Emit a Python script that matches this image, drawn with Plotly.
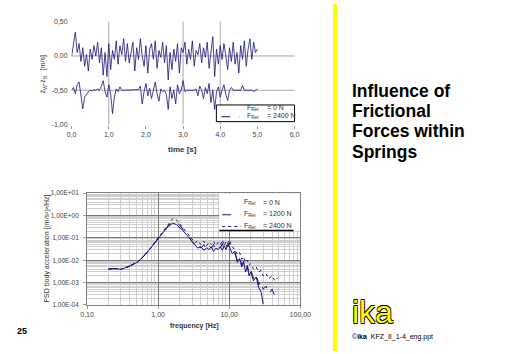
import plotly.graph_objects as go

# ---------------- data ----------------
time_s = [round(i * 0.05, 2) for i in range(101)]

dv_0N = [
    0.00, 0.22, 0.35, 0.05, 0.18, -0.08, 0.12, -0.15, 0.02, -0.22,
    0.10, -0.05, 0.15, 0.00, 0.20, -0.10, 0.12, -0.28, 0.05, -0.30,
    0.18, -0.20, 0.08, -0.05, 0.22, -0.12, 0.15, 0.02, 0.25, -0.08,
    0.18, -0.10, 0.05, 0.20, -0.22, 0.12, -0.05, 0.25, 0.00, -0.15,
    0.15, -0.25, 0.10, 0.18, -0.05, 0.22, -0.18, 0.08, -0.02, 0.20,
    -0.10, 0.15, -0.35, 0.05, -0.20, 0.10, -0.08, 0.18, -0.25, 0.12,
    0.05, 0.20, -0.12, 0.10, -0.05, 0.22, -0.15, 0.08, 0.02, 0.18,
    -0.10, 0.12, -0.02, 0.20, -0.18, 0.05, 0.28, -0.30, 0.10, -0.12,
    0.15, -0.05, 0.18, 0.00, -0.20, 0.12, -0.08, 0.20, -0.12, 0.05,
    -0.25, 0.15, -0.05, 0.22, -0.15, 0.10, 0.25, -0.05, 0.20, 0.05,
    0.10,
]

dv_2400N = [
    -0.50, -0.46, -0.55, -0.42, -0.38, -0.58, -0.77, -0.60, -0.55, -0.52,
    -0.50, -0.51, -0.49, -0.50, -0.48, -0.50, -0.44, -0.36, -0.52, -0.60,
    -0.42, -0.55, -0.84, -0.60, -0.48, -0.52, -0.45, -0.50, -0.50, -0.50,
    -0.50, -0.50, -0.50, -0.50, -0.50, -0.50, -0.49, -0.44, -0.70, -0.52,
    -0.40, -0.58, -0.47, -0.62, -0.50, -0.38, -0.55, -0.66, -0.48, -0.52,
    -0.50, -0.56, -0.78, -0.45, -0.62, -0.50, -0.70, -0.42, -0.55, -0.50,
    -0.36, -0.52, -0.50, -0.50, -0.49, -0.50, -0.50, -0.48, -0.58, -0.44,
    -0.50, -0.62, -0.46, -0.55, -0.40, -0.68, -0.50, -0.78, -0.52, -0.45,
    -0.60, -0.50, -0.42, -0.56, -0.65, -0.50, -0.46, -0.50, -0.50, -0.50,
    -0.50, -0.50, -0.43, -0.50, -0.50, -0.50, -0.50, -0.50, -0.52, -0.50,
    -0.48,
]

freq_hz = [0.2, 0.25, 0.3, 0.35, 0.4, 0.5, 0.6, 0.7, 0.8, 0.9,
           1.0, 1.2, 1.4, 1.6, 1.8, 2.0, 2.2, 2.5, 2.8, 3.0,
           3.3, 3.6, 4.0, 4.4, 4.8, 5.2, 5.6, 6.0, 6.5, 7.0,
           7.5, 8.0, 8.5, 9.0, 9.5, 10, 11, 12, 13, 14,
           15, 16, 17, 18, 19, 20, 22, 24, 26, 28,
           30, 33, 36, 40, 44, 48]

psd_0N = [4.0e-3, 4.3e-3, 3.9e-3, 4.6e-3, 5.5e-3, 8.0e-3, 1.3e-2, 2.2e-2, 3.8e-2, 6.2e-2,
          9.5e-2, 0.19, 0.33, 0.45, 0.40, 0.30, 0.22, 0.14, 0.09, 0.065,
          0.05, 0.035, 0.04, 0.028, 0.035, 0.03, 0.04, 0.025, 0.035, 0.03,
          0.04, 0.028, 0.045, 0.03, 0.05, 0.04, 0.02, 0.025, 0.008, 0.012,
          0.005, 0.008, 0.003, 0.005, 0.002, 0.003, 0.0012, 0.0018, 0.0006, 0.0004,
          0.00011, None, None, None, None, None]

psd_1200N = [4.1e-3, 4.0e-3, 4.2e-3, 4.8e-3, 5.6e-3, 8.2e-3, 1.35e-2, 2.3e-2, 4.0e-2, 6.5e-2,
             0.10, 0.20, 0.36, 0.55, 0.50, 0.38, 0.26, 0.16, 0.10, 0.07,
             0.045, 0.06, 0.035, 0.05, 0.03, 0.045, 0.035, 0.05, 0.03, 0.045,
             0.035, 0.055, 0.03, 0.05, 0.04, 0.06, 0.03, 0.02, 0.01, 0.015,
             0.006, 0.009, 0.004, 0.006, 0.0025, 0.004, 0.0015, 0.0025, 0.0008, 0.0012,
             0.0005, 0.0007, 0.0003, 0.0005, 0.00025, 0.0003]

psd_2400N = [3.9e-3, 4.2e-3, 4.0e-3, 4.7e-3, 5.4e-3, 7.8e-3, 1.3e-2, 2.25e-2, 3.9e-2, 6.4e-2,
             0.10, 0.21, 0.40, 0.72, 0.65, 0.45, 0.30, 0.18, 0.11, 0.08,
             0.06, 0.075, 0.05, 0.07, 0.045, 0.065, 0.05, 0.07, 0.045, 0.065,
             0.05, 0.08, 0.045, 0.07, 0.055, 0.08, 0.04, 0.03, 0.018, 0.022,
             0.011, 0.014, 0.008, 0.01, 0.006, 0.007, 0.004, 0.005, 0.003, 0.0035,
             0.002, 0.0025, 0.0015, 0.002, 0.0012, 0.0016]

time_ticks = [0, 1, 2, 3, 4, 5, 6]
time_ticktext = ["0,0", "1,0", "2,0", "3,0", "4,0", "5,0", "6,0"]
dv_ticks = [0.5, 0.0, -0.5, -1.0]
dv_ticktext = ["0,50", "0,00", "-0,50", "-1,00"]
top_grid_x = [1, 3, 4]
top_grid_y = [0.0, -0.5]
freq_ticks = [0.1, 1, 10, 100]
freq_ticktext = ["0,10", "1,00", "10,00", "100,00"]
psd_ticks = [10, 1, 0.1, 0.01, 0.001, 0.0001]
psd_ticktext = ["1,00E+01", "1,00E+00", "1,00E-01", "1,00E-02", "1,00E-03", "1,00E-04"]
title_lines = ["Influence of", "Frictional", "Forces within", "Springs"]

# ---------------- style ----------------
W, H = 512, 354
NAVY = "#14147a"
FONT = "Liberation Sans, Arial, sans-serif"
TICKFONT = dict(family=FONT, size=7, color="#444444")


def px(x):
    return x / W


def py(y):
    return 1 - y / H


fig = go.Figure()

# top chart
fig.add_trace(go.Scatter(x=time_s, y=dv_0N, mode="lines", line=dict(color=NAVY, width=0.8),
                         xaxis="x", yaxis="y", showlegend=False))
fig.add_trace(go.Scatter(x=time_s, y=dv_2400N, mode="lines", line=dict(color=NAVY, width=0.8),
                         xaxis="x", yaxis="y", showlegend=False))
# bottom chart
fig.add_trace(go.Scatter(x=freq_hz, y=psd_0N, mode="lines", line=dict(color=NAVY, width=1),
                         xaxis="x2", yaxis="y2", showlegend=False, connectgaps=False))
fig.add_trace(go.Scatter(x=freq_hz, y=psd_1200N, mode="lines", line=dict(color=NAVY, width=1, dash="dash"),
                         xaxis="x2", yaxis="y2", showlegend=False))
fig.add_trace(go.Scatter(x=freq_hz, y=psd_2400N, mode="lines", line=dict(color=NAVY, width=1, dash="dot"),
                         xaxis="x2", yaxis="y2", showlegend=False))

shapes = []
for xv in top_grid_x:
    shapes.append(dict(type="line", xref="x", yref="y domain", x0=xv, x1=xv, y0=0, y1=1,
                       line=dict(color="#A8A8A8", width=1), layer="below"))
for yv in top_grid_y:
    shapes.append(dict(type="line", xref="x domain", yref="y", x0=0, x1=1, y0=yv, y1=yv,
                       line=dict(color="#A8A8A8", width=1), layer="below"))

# top legend box
shapes.append(dict(type="rect", xref="paper", yref="paper", x0=px(217), x1=px(298), y0=py(120), y1=py(103),
                   line=dict(color="black", width=1), fillcolor="white", layer="above"))
shapes.append(dict(type="line", xref="paper", yref="paper", x0=px(222), x1=px(241), y0=py(115), y1=py(115),
                   line=dict(color=NAVY, width=1, dash="dash"), layer="above"))

# bottom legend box
shapes.append(dict(type="rect", xref="paper", yref="paper", x0=px(220), x1=px(303.5), y0=py(231), y1=py(193.5),
                   line=dict(width=0), fillcolor="white", layer="above"))
shapes.append(dict(type="line", xref="paper", yref="paper", x0=px(220), x1=px(297), y0=py(231), y1=py(231),
                   line=dict(color="black", width=1.5), layer="above"))
shapes.append(dict(type="line", xref="paper", yref="paper", x0=px(223), x1=px(242), y0=py(215), y1=py(215),
                   line=dict(color=NAVY, width=1, dash="dash"), layer="above"))
shapes.append(dict(type="line", xref="paper", yref="paper", x0=px(223), x1=px(242), y0=py(227), y1=py(227),
                   line=dict(color=NAVY, width=1, dash="dot"), layer="above"))

# yellow divider
shapes.append(dict(type="line", xref="paper", yref="paper", x0=px(340), x1=px(340), y0=0, y1=1,
                   line=dict(color="#FFFF00", width=4), layer="above"))

ann = []


def text(t, x, y, size=7, xanchor="left", yanchor="middle", color="#333333", angle=0, bold=False):
    if bold:
        t = "<b>" + t + "</b>"
    ann.append(dict(text=t, x=px(x), y=py(y), xref="paper", yref="paper", showarrow=False,
                    xanchor=xanchor, yanchor=yanchor, textangle=angle,
                    font=dict(family=FONT, size=size, color=color)))


# legend texts
text("F<sub>Rei</sub>", 247, 106)
text("= 0 N", 267, 106)
text("F<sub>Rei</sub>", 247, 114)
text("= 2400 N", 267, 114)
text("F<sub>Rei</sub>", 244, 202)
text("= 0 N", 263, 202)
text("F<sub>Rei</sub>", 244, 214)
text("= 1200 N", 263, 214)
text("F<sub>Rei</sub>", 244, 226)
text("= 2400 N", 263, 226)

# axis titles
text("ż<sub>W</sub>-ż<sub>B</sub>   [m/s]", 37, 72, xanchor="center", angle=-90)
text("time [s]", 182, 148, size=8, xanchor="center", bold=True)
text("PSD body acceleration [(m/s²)²/Hz]", 41, 250, xanchor="center", angle=-90)
text("frequency [Hz]", 194, 329, xanchor="center", bold=True)

# slide texts
for i, line in enumerate(title_lines):
    text(line, 356, 89 + i * 20.5, size=17.5, color="black", bold=True)
ann.append(dict(text="ika", x=px(355), y=py(314), xref="paper", yref="paper", showarrow=False,
                xanchor="left", yanchor="middle",
                font=dict(family=FONT, size=32, color="#FFFF00",
                          shadow="-0.7px -0.7px 0 #000, 0.7px -0.7px 0 #000, -0.7px 0.7px 0 #000, 0.7px 0.7px 0 #000")))
text("©<b>ika</b>  KFZ_II_1-4_eng.ppt", 355, 340, size=7, color="black")
text("25", 8, 334, size=9, color="black", bold=True)

fig.update_layout(
    width=W, height=H,
    margin=dict(l=0, r=0, t=0, b=0),
    paper_bgcolor="white", plot_bgcolor="white",
    showlegend=False,
    shapes=shapes,
    annotations=ann,
    xaxis=dict(domain=[px(67), px(298)], range=[0, 6], tickvals=time_ticks, ticktext=time_ticktext,
               showgrid=False, zeroline=False, showline=False, ticks="outside", ticklen=3,
               tickcolor="#999999", tickfont=TICKFONT, anchor="y"),
    yaxis=dict(domain=[py(123), py(18)], range=[-1, 0.5], tickvals=dv_ticks, ticktext=dv_ticktext,
               showgrid=False, zeroline=False, showline=False, ticks="", ticklabelstandoff=3,
               tickfont=TICKFONT, anchor="x"),
    xaxis2=dict(type="log", domain=[px(83), px(304)], range=[-1, 2], tickvals=freq_ticks,
                ticktext=freq_ticktext, showgrid=True, gridcolor="#7A7A7A", gridwidth=1,
                minor=dict(dtick="D1", showgrid=True, gridcolor="#CFCFCF", ticks=""),
                showline=True, mirror=True, linecolor="#808080", zeroline=False,
                ticks="outside", ticklen=3, tickcolor="#999999", tickfont=TICKFONT, anchor="y2"),
    yaxis2=dict(type="log", domain=[py(307), py(193)], range=[-4, 1], tickvals=psd_ticks,
                ticktext=psd_ticktext, showgrid=True, gridcolor="#7A7A7A", gridwidth=1,
                minor=dict(dtick="D1", showgrid=True, gridcolor="#CFCFCF", ticks=""),
                showline=True, mirror=True, linecolor="#808080", zeroline=False,
                ticks="outside", ticklen=3, tickcolor="#999999", ticklabelstandoff=3,
                tickfont=dict(family=FONT, size=6.5, color="#444444"), anchor="x2"),
)

fig.write_html("out.html")
